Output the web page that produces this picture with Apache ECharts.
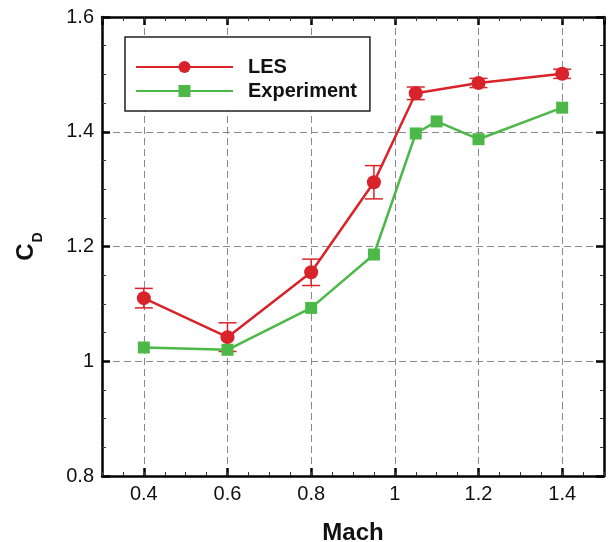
<!DOCTYPE html>
<html>
<head>
<meta charset="utf-8">
<script src="https://cdn.jsdelivr.net/npm/echarts@6/dist/echarts.min.js"></script>
<style>
  html, body { margin: 0; padding: 0; background: #fff; }
  #chart { width: 609px; height: 542px; }
</style>
</head>
<body>
<div id="chart"></div>
<script>
// LES data with error bars (half-width)
const machLES = [0.4, 0.6, 0.8, 0.95, 1.05, 1.2, 1.4]
const cdLES = [1.110, 1.042, 1.155, 1.312, 1.467, 1.485, 1.501]
const errLES = [0.017, 0.025, 0.023, 0.029, 0.011, 0.008, 0.008]

// experiment
const machExp = [0.4, 0.6, 0.8, 0.95, 1.05, 1.1, 1.2, 1.4]
const cdExp = [1.024, 1.020, 1.093, 1.186, 1.397, 1.418, 1.387, 1.442]

const RED = '#d9232a'
const GREEN = '#4cb848'
const FONT = '"Liberation Sans", Arial, sans-serif'

const lesData = machLES.map((m, i) => [m, cdLES[i]])
const expData = machExp.map((m, i) => [m, cdExp[i]])
const errData = machLES.map((m, i) => [m, cdLES[i] - errLES[i], cdLES[i] + errLES[i]])

const chart = echarts.init(document.getElementById('chart'), null, { renderer: 'canvas' })

const boxLine = { lineStyle: { color: '#000', width: 2.5 } }
const majorTick = { inside: true, length: 8, lineStyle: { color: '#000', width: 2.5 } }
const minorTick = { show: true, splitNumber: 4, length: 4, lineStyle: { color: '#333', width: 1 } }
const dashed = {
  show: true,
  showMinLine: false,
  showMaxLine: false,
  lineStyle: { color: '#8a8a8a', width: 1, type: [7, 4] }
}
const tickLabel = { fontSize: 20, color: '#111', fontFamily: FONT, margin: 8 }

function renderErr(params, api) {
  const x = api.value(0)
  const lo = api.coord([x, api.value(1)])
  const hi = api.coord([x, api.value(2)])
  const w = 9
  const style = { stroke: RED, lineWidth: 1.5 }
  return {
    type: 'group',
    children: [
      { type: 'line', shape: { x1: lo[0], y1: lo[1], x2: hi[0], y2: hi[1] }, style },
      { type: 'line', shape: { x1: lo[0] - w, y1: lo[1], x2: lo[0] + w, y2: lo[1] }, style },
      { type: 'line', shape: { x1: hi[0] - w, y1: hi[1], x2: hi[0] + w, y2: hi[1] }, style }
    ]
  }
}

const gridRect = { left: 102, right: 5, top: 17, bottom: 66, containLabel: false, outerBoundsMode: 'none' }

chart.setOption({
  animation: false,
  backgroundColor: '#fff',
  grid: [
    { ...gridRect },
    { ...gridRect }
  ],
  legend: {
    data: ['LES', 'Experiment'],
    orient: 'vertical',
    left: 125,
    top: 37,
    padding: [20, 13, 10, 10],
    itemGap: 4,
    itemWidth: 97,
    itemHeight: 15,
    backgroundColor: '#fff',
    borderColor: '#222',
    borderWidth: 1.5,
    borderRadius: 0,
    textStyle: { fontSize: 20, fontWeight: 'bold', color: '#111', fontFamily: FONT, padding: [0, 0, 0, 10] }
  },
  xAxis: [
    {
      type: 'value', gridIndex: 0, position: 'bottom',
      min: 0.3, max: 1.5, splitNumber: 6,
      axisLine: boxLine, axisTick: majorTick,
      axisLabel: { ...tickLabel, showMinLabel: false, showMaxLabel: false },
      splitLine: dashed,
      name: 'Mach', nameLocation: 'middle', nameGap: 45,
      nameTextStyle: { fontSize: 24, fontWeight: 'bold', color: '#111', fontFamily: FONT }
    },
    {
      type: 'value', gridIndex: 0, position: 'top',
      min: 0.3, max: 1.5, splitNumber: 6,
      axisLine: boxLine, axisTick: majorTick,
      axisLabel: { show: false }, splitLine: { show: false }
    },
    // minor ticks every 0.05 on bottom and top
    {
      type: 'value', gridIndex: 1, position: 'bottom',
      min: 0.3, max: 1.5, interval: 0.05,
      axisLine: { show: false },
      axisTick: { inside: true, length: 4, lineStyle: { color: '#333', width: 1 } },
      axisLabel: { show: false }, splitLine: { show: false }
    },
    {
      type: 'value', gridIndex: 1, position: 'top',
      min: 0.3, max: 1.5, interval: 0.05,
      axisLine: { show: false },
      axisTick: { inside: true, length: 4, lineStyle: { color: '#333', width: 1 } },
      axisLabel: { show: false }, splitLine: { show: false }
    }
  ],
  yAxis: [
    {
      type: 'value', gridIndex: 0, position: 'left',
      min: 0.8, max: 1.6, interval: 0.2,
      axisLine: boxLine, axisTick: majorTick, minorTick: minorTick,
      axisLabel: tickLabel,
      splitLine: dashed,
      name: '{c|C}{d|D}', nameLocation: 'middle', nameGap: 62,
      nameTextStyle: {
        color: '#111',
        rich: {
          c: { fontSize: 24, fontWeight: 'bold', fontFamily: FONT, color: '#111', lineHeight: 26, verticalAlign: 'top' },
          d: { fontSize: 14, fontWeight: 'bold', fontFamily: FONT, color: '#111', lineHeight: 14, verticalAlign: 'top', padding: [17, 0, 0, 1] }
        }
      }
    },
    {
      type: 'value', gridIndex: 0, position: 'right',
      min: 0.8, max: 1.6, interval: 0.2,
      axisLine: boxLine, axisTick: majorTick, minorTick: minorTick,
      axisLabel: { show: false }, splitLine: { show: false }
    },
    { type: 'value', gridIndex: 1, show: false, min: 0, max: 1 }
  ],
  series: [
    {
      name: 'LES err',
      type: 'custom',
      xAxisIndex: 0, yAxisIndex: 0,
      renderItem: renderErr,
      data: errData,
      z: 2
    },
    {
      name: 'LES',
      type: 'line',
      xAxisIndex: 0, yAxisIndex: 0,
      data: lesData,
      symbol: 'circle',
      symbolSize: 14,
      lineStyle: { color: RED, width: 2.5 },
      itemStyle: { color: RED },
      z: 3
    },
    {
      name: 'Experiment',
      type: 'line',
      xAxisIndex: 0, yAxisIndex: 0,
      data: expData,
      symbol: 'rect',
      symbolSize: 12,
      lineStyle: { color: GREEN, width: 2.5 },
      itemStyle: { color: GREEN },
      z: 3
    }
  ]
})
</script>
</body>
</html>
